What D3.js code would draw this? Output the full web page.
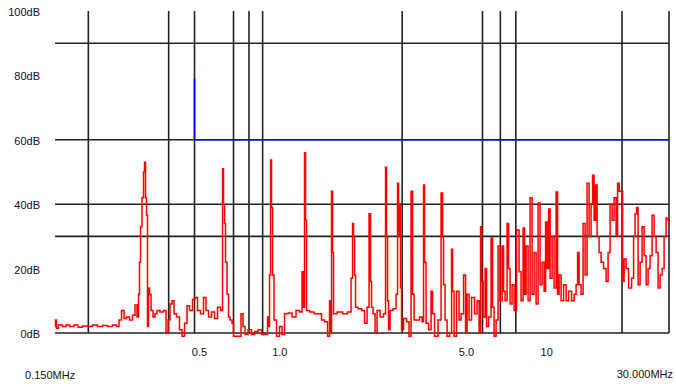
<!DOCTYPE html>
<html>
<head>
<meta charset="utf-8">
<script src="https://cdn.jsdelivr.net/npm/d3@7/dist/d3.min.js"></script>
<style>
  body { margin: 0; background: #fff; }
  text { font-family: "Liberation Sans", Arial, sans-serif; font-size: 11px; fill: #111; }
</style>
</head>
<body>
<div id="chart"></div>
<script>
// scan data: frequency (MHz) / level (dB)
const traceFreq = [
  0.150, 0.1513, 0.1526, 0.1566, 0.1635, 0.1664, 0.1737, 0.1798, 0.1861, 0.1943,
  0.2029, 0.2118, 0.2212, 0.2309, 0.2411, 0.2518, 0.2584, 0.2629, 0.2698, 0.2745,
  0.2816, 0.2890, 0.2966, 0.3018, 0.3070, 0.3097, 0.3124, 0.3151, 0.3206, 0.3234,
  0.3262, 0.3290, 0.3318, 0.3347, 0.3376, 0.3405, 0.3465, 0.3525, 0.3586, 0.3649,
  0.3777, 0.3876, 0.3944, 0.4012, 0.4082, 0.4153, 0.4226, 0.4336, 0.4450, 0.4528,
  0.4646, 0.4727, 0.4851, 0.4978, 0.5065, 0.5198, 0.5334, 0.5474, 0.5570, 0.5716,
  0.5866, 0.6019, 0.6177, 0.6339, 0.6394, 0.6450, 0.6506, 0.6562, 0.6676, 0.6734,
  0.6851, 0.6971, 0.7031, 0.7405, 0.7534, 0.7665, 0.7798, 0.8072, 0.8284, 0.8501,
  0.8800, 0.9031, 0.9348, 0.9429, 0.9510, 0.9593, 0.9676, 0.9760, 0.9845, 1.0016,
  1.0279, 1.0548, 1.0732, 1.1014, 1.1400, 1.1801, 1.2215, 1.2536, 1.2754, 1.2864,
  1.2976, 1.3089, 1.3202, 1.3784, 1.4268, 1.4769, 1.5157, 1.5555, 1.5962, 1.6101,
  1.6240, 1.6381, 1.6523, 1.6666, 1.7552, 1.8326, 1.9134, 1.9467, 1.9636, 1.9806,
  1.9978, 2.0151, 2.0859, 2.1406, 2.1968, 2.2350, 2.2739, 2.2936, 2.3135, 2.3538,
  2.3948, 2.4365, 2.5221, 2.5882, 2.6107, 2.6333, 2.6561, 2.6791, 2.7258, 2.8215,
  2.8707, 2.8955, 2.9206, 2.9459, 2.9715, 2.9972, 3.0759, 3.1565, 3.2115, 3.2674,
  3.2957, 3.3531, 3.4410, 3.5313, 3.5928, 3.6239, 3.6554, 3.7190, 3.8165, 3.8830,
  3.9167, 4.0194, 4.1606, 4.2330, 4.2697, 4.3067, 4.3817, 4.4580, 4.5749, 4.6146,
  4.6546, 4.7357, 4.8598, 4.9444, 5.0305, 5.1625, 5.2073, 5.2979, 5.3901, 5.5315,
  5.6767, 5.7754, 5.8760, 5.9269, 5.9783, 6.0824, 6.1884, 6.2420, 6.4057, 6.5172,
  6.5737, 6.6882, 6.8047, 6.9230, 7.0436, 7.1663, 7.2284, 7.3543, 7.4823, 7.5471,
  7.6786, 7.8123, 7.9483, 8.1567, 8.2988, 8.4433, 8.5902, 8.6648, 8.8157, 8.9690,
  9.1252, 9.2842, 9.4459, 9.6103, 9.7775, 9.9478, 10.121, 10.297, 10.387, 10.567,
  10.659, 10.845, 11.033, 11.226, 11.421, 11.520, 11.720, 11.925, 12.237, 12.450,
  12.777, 13.112, 13.341, 13.573, 13.690, 13.929, 14.171, 14.418, 14.669, 14.924,
  15.184, 15.449, 15.583, 15.854, 15.991, 16.270, 16.553, 16.841, 17.283, 17.584,
  17.890, 18.201, 18.518, 18.841, 19.169, 19.335, 19.672, 20.014, 20.188, 20.539,
  20.897, 21.445, 22.007, 22.198, 22.585, 22.780, 23.177, 23.580, 23.991, 24.409,
  24.834, 25.266, 25.706, 26.154, 26.609, 27.072, 27.543, 28.023, 28.511, 29.008,
  29.513, 30.0
];
const traceLevel = [
  2, 4, 1.5, 2.5, 2, 2.5, 2, 2.5, 1.8, 2.2,
  2, 2.5, 2, 2.3, 2, 2.5, 2, 4, 7, 4.5,
  5, 4, 5.5, 8.7, 5, 12, 22, 33, 42, 50,
  53, 42, 36.6, 2, 14, 12, 7, 5, 6, 7,
  6.5, 7, 0, 4, 9, 10, 6, 5, 1, -1,
  3, 8.5, 7, 10.5, 11, 7, 6, 11, 7, 5,
  6.5, 4.5, 8, 7, 51, 40, 34, 22, 12, 5,
  4, 3, -1, -1, 6, 2, -0.5, 1, -0.5, 0.5,
  1, -0.5, -0.5, 5, 2, 18, 53.7, 39, 18, 4,
  -1, 2, -0.5, 6, 6.2, 5, 7, 6.5, 19, 8,
  56, 35, 7, 6.5, 6, 6, 4, 3.5, -1, 10,
  0, 44, 25, 6, 6.5, 6, 6.5, 17, 34, 30,
  18, 8, 7.5, 7, 3, 8, 37, 16, 8, 6,
  0, 7, 5, 6, 51.5, 30, 10, 1, 7, 7.5,
  12, 46.5, 30, 40, 14, 1, 4.5, 3.5, -1, 44,
  12, 4, 4, 5, 3.5, 46, 22, 3, 1, 13,
  6, -1, 4, 43.5, 30, 15, 4, -1, 0, 26,
  13, -1, 13, 4, 6, 18, 0, 12, 4, 11,
  6, 10, 0, 33, 16, 5, 20, 2, 5, 29.5,
  8, -1, 4, 27, 10, 27, 13, 10, 34, 20,
  9, 15, 7, 32, 19, 10, 32.6, 12, 27, 10,
  42, 12, 25, 9, 40.4, 15, 22, 13, 34.5, 20,
  38.5, 17, 30, 14, 43.8, 12, 18, 10, 15, 10,
  13, 10, 12, 15, 25, 15, 12, 34, 18, 46.5,
  30, 40, 49, 35, 46, 30, 25, 22, 20, 16,
  25, 40, 35, 42, 30, 46.5, 44, 44, 16, 23,
  20, 14, 17, 30, 37, 39, 15, 22, 33, 24,
  15, 20, 24, 36.6, 30, 25, 14, 18, 20, 30,
  35.7, 35
];

// limit line
const limitFreq = [0.5, 0.5, 30];
const limitLevel = [79, 60, 60];

const gridFreq = [0.2, 0.4, 0.5, 0.7, 0.8, 0.9, 3, 6, 7, 8, 20, 30];
const gridLevel = [0, 30, 40, 60, 90];

const xTickValues = [0.5, 1.0, 5.0, 10];
const xTickLabels = ["0.5", "1.0", "5.0", "10"];
const yTickValues = [100, 80, 60, 40, 20, 0];
const yTickLabels = ["100dB", "80dB", "60dB", "40dB", "20dB", "0dB"];
const startLabel = "0.150MHz";
const stopLabel = "30.000MHz";

const width = 676, height = 387;
const margin = { top: 11, right: 7, bottom: 54, left: 55 };

const svg = d3.select("#chart").append("svg")
  .attr("width", width)
  .attr("height", height);

const x = d3.scaleLog().domain([0.15, 30]).range([margin.left, width - margin.right]);
const y = d3.scaleLinear().domain([0, 100]).range([height - margin.bottom, margin.top]);

// grid
svg.append("g")
  .selectAll("line")
  .data(gridLevel)
  .join("line")
  .attr("x1", x(0.15)).attr("x2", x(30))
  .attr("y1", d => y(d)).attr("y2", d => y(d))
  .attr("stroke", "#222").attr("stroke-width", 1.6);

svg.append("g")
  .selectAll("line")
  .data(gridFreq)
  .join("line")
  .attr("x1", d => x(d)).attr("x2", d => x(d))
  .attr("y1", y(100)).attr("y2", y(0))
  .attr("stroke", "#222").attr("stroke-width", 1.6);

// trace, drawn as steps like the analyzer does
const trace = d3.zip(traceFreq, traceLevel);
svg.append("path")
  .datum(trace)
  .attr("fill", "none")
  .attr("stroke", "#ff0000")
  .attr("stroke-width", 1.5)
  .attr("d", d3.line().curve(d3.curveStep).x(d => x(d[0])).y(d => y(d[1])));

// limit
svg.append("path")
  .datum(d3.zip(limitFreq, limitLevel))
  .attr("fill", "none")
  .attr("stroke", "#0000ff")
  .attr("stroke-width", 1.6)
  .attr("d", d3.line().x(d => x(d[0])).y(d => y(d[1])));

// axis labels
svg.append("g")
  .selectAll("text")
  .data(yTickValues)
  .join("text")
  .attr("x", 40)
  .attr("y", d => y(d) + 5)
  .attr("text-anchor", "end")
  .text((d, i) => yTickLabels[i]);

svg.append("g")
  .selectAll("text")
  .data(xTickValues)
  .join("text")
  .attr("x", d => x(d) + 5)
  .attr("y", 356)
  .attr("text-anchor", "middle")
  .text((d, i) => xTickLabels[i]);

svg.append("text").attr("x", 25).attr("y", 379).text(startLabel);
svg.append("text").attr("x", 673).attr("y", 378).attr("text-anchor", "end").text(stopLabel);
</script>
</body>
</html>
